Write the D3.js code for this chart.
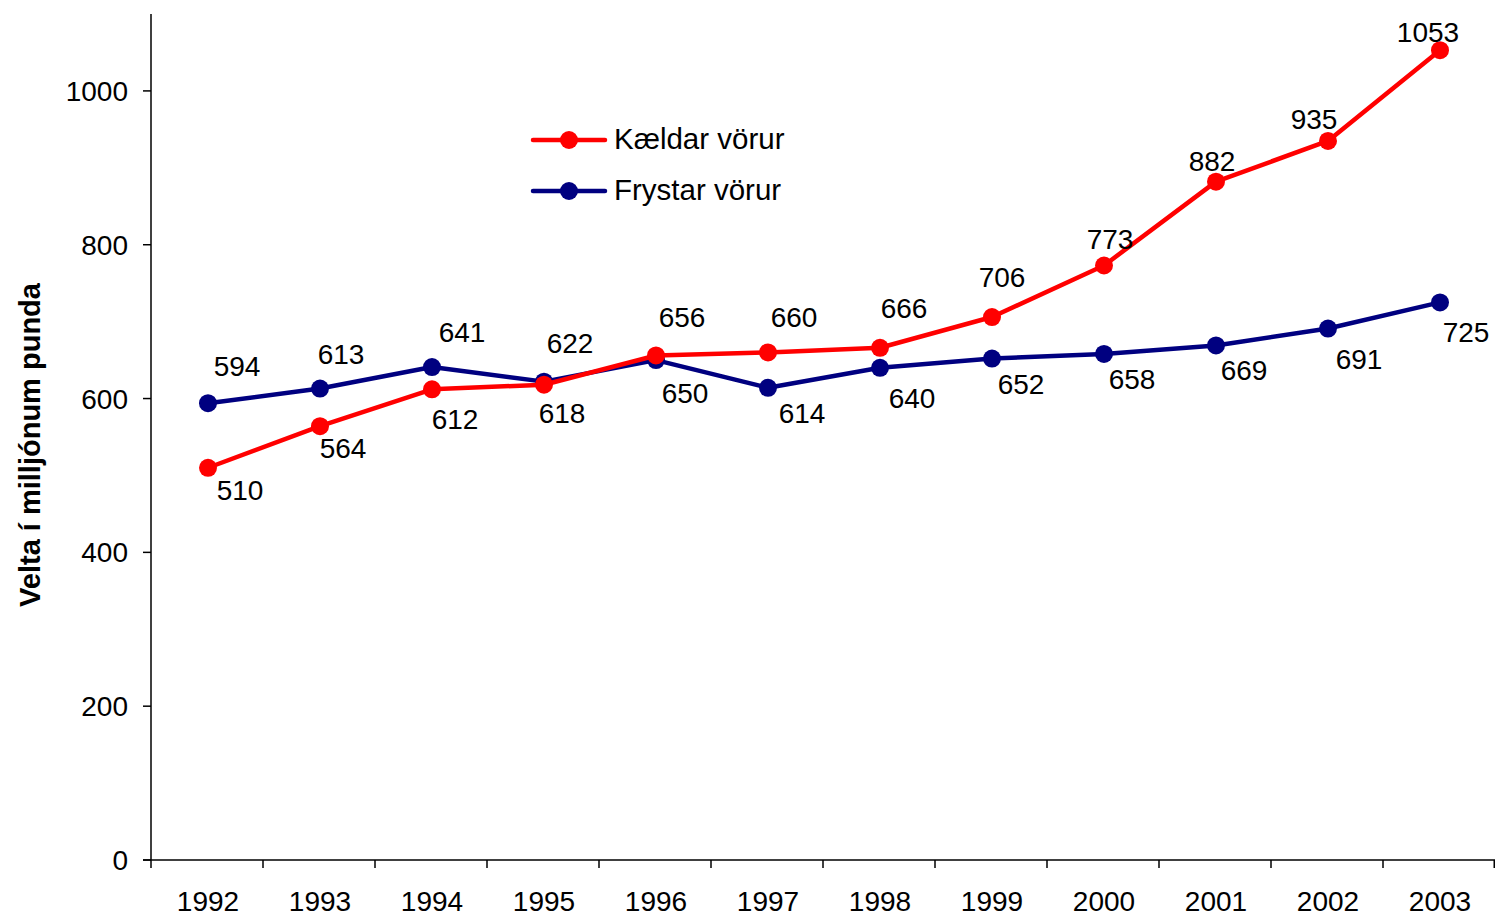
<!DOCTYPE html>
<html><head><meta charset="utf-8">
<script src="https://cdn.jsdelivr.net/npm/d3@7/dist/d3.min.js"></script>
<style>body{margin:0;background:#fff}svg{display:block}text{font-family:"Liberation Sans",Arial,sans-serif}</style>
</head><body><svg id="c" width="1496" height="916"></svg>
<script>
const years = ["1992","1993","1994","1995","1996","1997","1998","1999","2000","2001","2002","2003"];
const kaeldar = [510,564,612,618,656,660,666,706,773,882,935,1053];
const frystar = [594,613,641,622,650,614,640,652,658,669,691,725];
const yTicks = [0,200,400,600,800,1000];
const seriesNames = ["Kældar vörur","Frystar vörur"];
const yTitle = "Velta í milljónum punda";
// label placement offsets (text centre relative to marker)
const kaeldarLabelOff = [[32,22],[23,22],[23,30],[18,28],[26,-39],[26,-35],[24,-40],[10,-40],[6,-27],[-4,-21],[-14,-22],[-12,-18]];
const frystarLabelOff = [[29,-37],[21,-35],[30,-35],[26,-39],[29,33],[34,25],[32,30],[29,25],[28,25],[28,24],[31,30],[26,30]];

const svg = d3.select("#c");
const L=151,R=1495,T=14,B=860;
const x = d3.scaleBand().domain(years).range([L,R]).padding(0);
const y = d3.scaleLinear().domain([0,1100]).range([B,T]);
const fs = 28;

// y axis
svg.append("line").attr("x1",L).attr("x2",L).attr("y1",T).attr("y2",B).attr("stroke","#000").attr("stroke-width",1.5);
yTicks.forEach(t=>{
  svg.append("line").attr("x1",L-8).attr("x2",L).attr("y1",y(t)).attr("y2",y(t)).attr("stroke","#000").attr("stroke-width",1.5);
  svg.append("text").attr("x",L-23).attr("y",y(t)).attr("dy","0.36em").attr("text-anchor","end").attr("font-size",fs).text(t);
});
// x axis
svg.append("line").attr("x1",L-8).attr("x2",R).attr("y1",B).attr("y2",B).attr("stroke","#000").attr("stroke-width",1.5);
years.forEach((yr,i)=>{
  const xp = x(yr);
  svg.append("line").attr("x1",xp).attr("x2",xp).attr("y1",B).attr("y2",B+8).attr("stroke","#000").attr("stroke-width",1.5);
  svg.append("text").attr("x",xp+x.bandwidth()/2+1).attr("y",901).attr("dy","0.36em").attr("text-anchor","middle").attr("font-size",fs).text(yr);
});
svg.append("line").attr("x1",R-0.75).attr("x2",R-0.75).attr("y1",B).attr("y2",B+8).attr("stroke","#000").attr("stroke-width",1.5);

// y title
svg.append("text").attr("transform","translate(30,445) rotate(-90)").attr("dy","0.36em").attr("text-anchor","middle")
  .attr("font-size",29).attr("font-weight","bold").text(yTitle);

const cx = d=>x(d)+x.bandwidth()/2+1;
const series = [
  {name:seriesNames[0], vals:kaeldar, color:"#ff0000", off:kaeldarLabelOff},
  {name:seriesNames[1], vals:frystar, color:"#000080", off:frystarLabelOff}
];
const line = d3.line().x((d,i)=>cx(years[i])).y(d=>y(d));
[series[1],series[0]].forEach(s=>{
  svg.append("path").attr("d",line(s.vals)).attr("fill","none").attr("stroke",s.color).attr("stroke-width",4.5).attr("stroke-linejoin","round");
  s.vals.forEach((v,i)=>{
    svg.append("circle").attr("cx",cx(years[i])).attr("cy",y(v)).attr("r",9).attr("fill",s.color);
  });
});
series.forEach(s=>{
  s.vals.forEach((v,i)=>{
    svg.append("text").attr("x",cx(years[i])+s.off[i][0]).attr("y",y(v)+s.off[i][1]).attr("dy","0.36em")
      .attr("text-anchor","middle").attr("font-size",fs).text(v);
  });
});

// legend
series.forEach((s,i)=>{
  const ly = 140 + i*51;
  svg.append("line").attr("x1",533).attr("x2",605).attr("y1",ly).attr("y2",ly).attr("stroke",s.color).attr("stroke-width",4.5).attr("stroke-linecap","round");
  svg.append("circle").attr("cx",569).attr("cy",ly).attr("r",9).attr("fill",s.color);
  svg.append("text").attr("x",614).attr("y",ly-2).attr("dy","0.36em").attr("font-size",29.5).text(s.name);
});
</script></body></html>
